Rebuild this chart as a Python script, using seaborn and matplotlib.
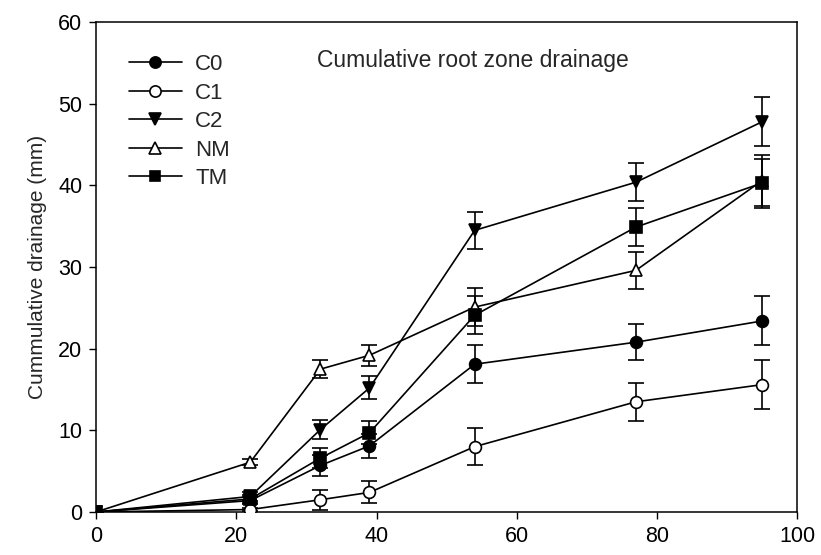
import matplotlib
matplotlib.use("Agg")
import matplotlib.pyplot as plt
import seaborn as sns
import pandas as pd

days = [0, 22, 32, 39, 54, 77, 95]
series_names = ["C0", "C1", "C2", "NM", "TM"]
c0 = [0, 1.4, 5.7, 8.1, 18.1, 20.8, 23.4]
c0_err = [0, 0.4, 1.3, 1.5, 2.3, 2.2, 3.0]
c1 = [0, 0.3, 1.5, 2.4, 8.0, 13.5, 15.6]
c1_err = [0, 0.2, 1.2, 1.35, 2.3, 2.3, 3.0]
c2 = [0, 1.9, 10.1, 15.2, 34.5, 40.4, 47.8]
c2_err = [0, 0.5, 1.2, 1.4, 2.3, 2.3, 3.0]
nm = [0, 6.1, 17.5, 19.2, 25.1, 29.6, 40.6]
nm_err = [0, 0.4, 1.1, 1.3, 2.3, 2.3, 3.1]
tm = [0, 1.6, 6.6, 9.7, 24.1, 34.9, 40.3]
tm_err = [0, 0.5, 1.2, 1.4, 2.3, 2.3, 3.0]
title_text = "Cumulative root zone drainage"
y_label = "Cummulative drainage (mm)"
x_ticks = [0, 20, 40, 60, 80, 100]
y_ticks = [0, 10, 20, 30, 40, 50, 60]

sns.set_theme(style="ticks")
plt.rcParams["font.family"] = ["Liberation Sans", "DejaVu Sans"]

values = [c0, c1, c2, nm, tm]
errors = [c0_err, c1_err, c2_err, nm_err, tm_err]
markers = ["o", "o", "v", "^", "s"]
faces = ["black", "white", "black", "white", "black"]

fig = plt.figure(figsize=(8.21, 5.55), dpi=100)
ax = fig.add_axes([0.117, 0.0775, 0.854, 0.8825])

for name, v, e, m, fc in zip(series_names, values, errors, markers, faces):
    df = pd.DataFrame({"day": days, "val": v})
    ax.errorbar(days, v, yerr=e, fmt="none", ecolor="black", elinewidth=1.2,
                capsize=5.5, capthick=1.2, zorder=2)
    sns.lineplot(data=df, x="day", y="val", ax=ax, color="black", linewidth=1.2,
                 marker=m, markersize=8.5 if m != "s" else 8, markerfacecolor=fc,
                 markeredgecolor="black", markeredgewidth=1.2, label=name,
                 zorder=3)

ax.set_xlim(0, 100)
ax.set_ylim(0, 60)
ax.set_xticks(x_ticks)
ax.set_yticks(y_ticks)
ax.set_xlabel("")
ax.set_ylabel(y_label, fontsize=15, labelpad=8)
ax.tick_params(axis="both", labelsize=15.5, direction="out", length=5, width=1,
               colors="black", top=False, right=False, pad=5)
for sp in ax.spines.values():
    sp.set_visible(True)
    sp.set_color("black")
    sp.set_linewidth(1.1)

ax.text(31.5, 55.3, title_text, fontsize=16.5, va="center", ha="left")

leg = ax.legend(loc="upper left", bbox_to_anchor=(0.047, 0.935), frameon=False,
                fontsize=16, handlelength=2.37, handletextpad=0.6,
                labelspacing=0.34, borderaxespad=0, borderpad=0,
                markerscale=0.95)

fig.savefig("out.png", dpi=100)
